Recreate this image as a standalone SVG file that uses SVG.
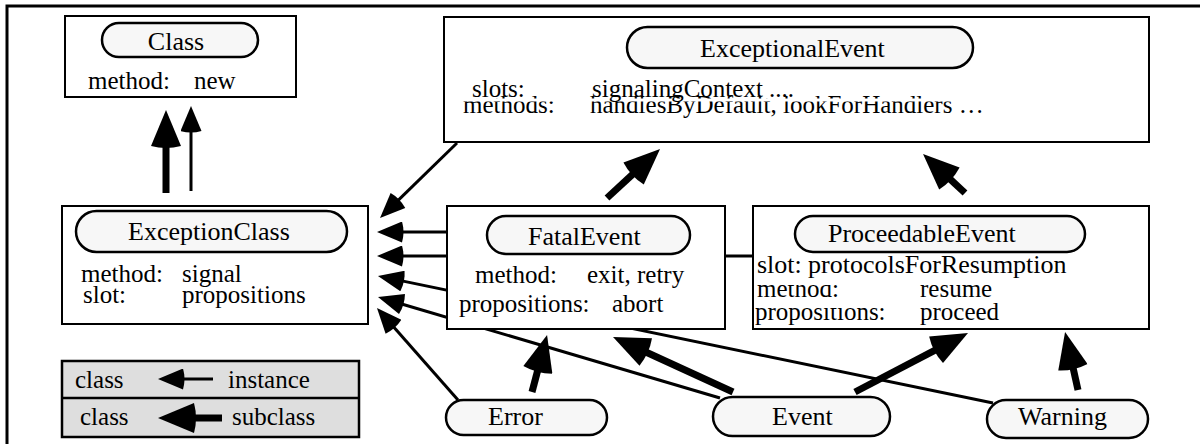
<svg xmlns="http://www.w3.org/2000/svg" width="1200" height="444" viewBox="0 0 1200 444">
  <defs>
    <style>
      .box { fill: #fff; stroke: #000; stroke-width: 2; }
      .pill { fill: #f7f7f7; stroke: #000; stroke-width: 2.5; }
      .legend { fill: #dedede; stroke: #000; stroke-width: 2.5; }
      text { font-family: "Liberation Serif", "Times New Roman", serif; font-size: 25px; fill: #000; }
      .lbl { font-size: 26px; }
      .inst { stroke: #000; stroke-width: 3; fill: none; marker-end: url(#inst); }
      .sub { stroke: #000; stroke-width: 7; fill: none; marker-end: url(#sub); }
      .mask { fill: #fff; stroke: none; }
    </style>
    <!-- instance-of arrowhead (thin) -->
    <marker id="inst" viewBox="0 0 28 21" refX="6" refY="10.5" markerWidth="28" markerHeight="21" markerUnits="userSpaceOnUse" orient="auto">
      <path d="M3,0 L28,10.5 L3,21 Q0,10.5 3,0 Z" fill="#000"/>
    </marker>
    <!-- subclass-of arrowhead (thick) -->
    <marker id="sub" viewBox="0 0 40 30" refX="10" refY="15" markerWidth="40" markerHeight="30" markerUnits="userSpaceOnUse" orient="auto">
      <path d="M4,0 L40,15 L4,30 Q0,15 4,0 Z" fill="#000"/>
    </marker>
  </defs>

  <rect width="1200" height="444" fill="#fff"/>

  <!-- outer frame -->
  <path d="M7,444 V6 H1200" fill="none" stroke="#000" stroke-width="3"/>

  <g id="connectors">
    <!-- ExceptionClass -> Class -->
    <line class="sub" x1="166" y1="193" x2="166" y2="140"/>
    <line class="inst" x1="191" y1="191" x2="191" y2="128"/>
    <!-- instances of ExceptionClass -->
    <line class="inst" x1="457" y1="143" x2="395.8" y2="202.6"/>
    <line class="inst" x1="451" y1="232" x2="399" y2="232"/>
    <line class="inst" x1="753" y1="256" x2="399" y2="256"/>
    <line class="inst" x1="993" y1="403" x2="399.5" y2="280.4"/>
    <line class="inst" x1="720" y1="398" x2="399.1" y2="303.2"/>
    <line class="inst" x1="458" y1="400" x2="391.5" y2="324.5"/>
    <!-- subclass links -->
    <line class="sub" x1="607" y1="198" x2="638" y2="169.4"/>
    <line class="sub" x1="965" y1="193" x2="945" y2="174.4"/>
    <line class="sub" x1="532" y1="392" x2="539.4" y2="364"/>
    <line class="sub" x1="733" y1="392" x2="640.3" y2="349.5"/>
    <line class="sub" x1="855" y1="392" x2="941.4" y2="346.9"/>
    <line class="sub" x1="1078" y1="390" x2="1071.6" y2="361.3"/>
  </g>

  <g id="class">
    <rect class="box" x="65" y="16" width="231" height="81"/>
    <rect class="pill" x="102" y="23" width="156" height="34" rx="17"/>
    <text class="lbl" x="176" y="50" text-anchor="middle">Class</text>
    <text x="88" y="89">method:</text>
    <text x="194" y="89">new</text>
  </g>

  <g id="exceptional-event">
    <rect class="box" x="444" y="17" width="705" height="125"/>
    <rect class="pill" x="627" y="27" width="346" height="41" rx="20.5"/>
    <text class="lbl" x="700" y="57">ExceptionalEvent</text>
    <text x="463" y="113">methods:</text>
    <text x="590" y="113">handlesByDefault, lookForHandlers …</text>
    <rect class="mask" x="460" y="98.5" width="560" height="3"/>
    <text x="472" y="97">slots:</text>
    <text x="592" y="97">signalingContext ....</text>
  </g>

  <g id="exception-class">
    <rect class="box" x="62" y="206" width="306" height="118"/>
    <rect class="pill" x="76" y="211" width="271" height="41" rx="20.5"/>
    <text class="lbl" x="128" y="240">ExceptionClass</text>
    <text x="81" y="282">method:</text>
    <text x="182" y="282">signal</text>
    <text x="83" y="303">slot:</text>
    <text x="182" y="303">propositions</text>
  </g>

  <g id="fatal-event">
    <rect class="box" x="447" y="206" width="278" height="123"/>
    <rect class="pill" x="487" y="216" width="203" height="38" rx="19"/>
    <text class="lbl" x="528" y="245">FatalEvent</text>
    <text x="475" y="283">method:</text>
    <text x="587" y="283">exit, retry</text>
    <text x="459" y="312">propositions:</text>
    <text x="612" y="312">abort</text>
  </g>

  <g id="proceedable-event">
    <rect class="box" x="753" y="206" width="396" height="123"/>
    <rect class="pill" x="795" y="216" width="290" height="36" rx="18"/>
    <text class="lbl" x="828" y="242">ProceedableEvent</text>
    <text x="755" y="320">propositions:</text>
    <text x="920" y="320">proceed</text>
    <rect class="mask" x="754" y="300" width="150" height="8"/>
    <text x="757" y="297">method:</text>
    <text x="920" y="297">resume</text>
    <rect class="mask" x="754" y="278" width="330" height="7"/>
    <text class="lbl" x="757" y="273">slot:</text>
    <text class="lbl" x="808" y="273">protocolsForResumption</text>
  </g>

  <g id="error">
    <rect class="pill" x="446" y="400" width="161" height="35" rx="17.5"/>
    <text class="lbl" x="488" y="425">Error</text>
  </g>

  <g id="event">
    <rect class="pill" x="713" y="397" width="177" height="39" rx="19.5"/>
    <text class="lbl" x="772" y="425">Event</text>
  </g>

  <g id="warning">
    <rect class="pill" x="987" y="400" width="161" height="38" rx="19"/>
    <text class="lbl" x="1018" y="425">Warning</text>
  </g>

  <g id="legend">
    <rect class="legend" x="62" y="361" width="297" height="76"/>
    <line x1="62" y1="398" x2="359" y2="398" stroke="#000" stroke-width="2.5"/>
    <text x="75" y="388">class</text>
    <line class="inst" x1="213" y1="379" x2="180" y2="379"/>
    <text x="228" y="388">instance</text>
    <text x="80" y="425">class</text>
    <line class="sub" x1="222" y1="418" x2="188" y2="418"/>
    <text x="232" y="425">subclass</text>
  </g>
</svg>
